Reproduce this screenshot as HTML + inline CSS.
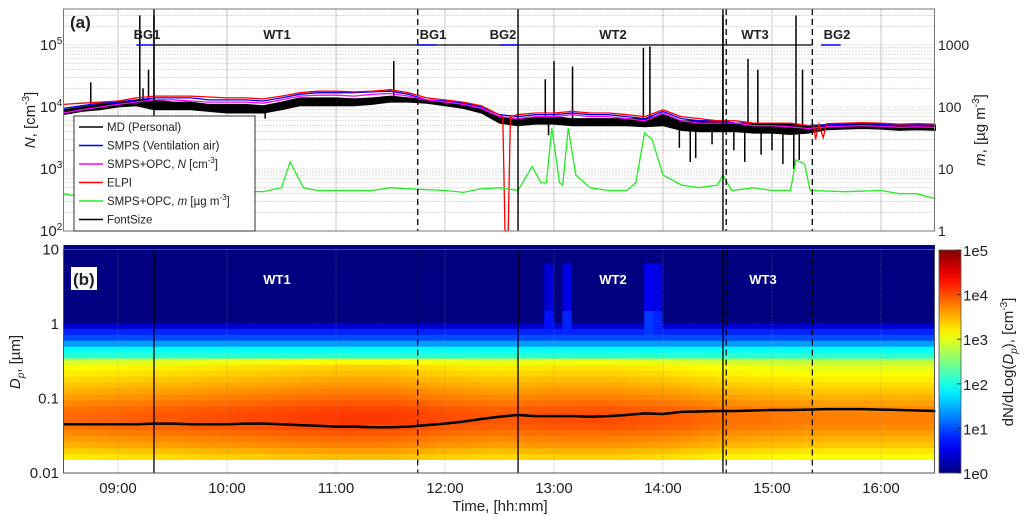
<!DOCTYPE html>
<html><head><meta charset="utf-8"><style>
body{margin:0;background:#fff;}
svg{display:block;font-family:"Liberation Sans",Arial,sans-serif;}
</style></head><body>
<svg id="c" width="1024" height="515" viewBox="0 0 1024 515" xmlns="http://www.w3.org/2000/svg"></svg>
<script>
// ---------- DATA ----------
const timeH = [];for(let i=0;i<49;i++)timeH.push(8.5+i/6);
const elpiN = [11,11.5,12,12.5,14,15,15,15,14.5,14,14,13.5,15,17,18,18,17.5,18,19,17,14,13,12,10.5,8,7.5,8,8,8.5,8,8,7.5,7,9,7,6.5,6,6,5.5,5.5,5.5,5,5.3,5.5,5.6,5.5,5.3,5.4,5.3];
const smpsN = [9.5,10.5,11.5,12,13,14,14,14,13,13,13,12.5,14,16,17,17,17,17.5,18,16,13,12.5,11.5,10,7.5,7,7.5,7.5,8,7.5,7.5,7,6.5,8.5,6.5,6,6,5.5,5.5,5.5,5.5,5,5.2,5.3,5.4,5.3,5.1,5.2,5.1];
const smpsOpcN = [8,9,10,11,12,13,13,12.5,12,12,12,11.5,13,15,15.5,15.5,15,16,16.5,15,13,12,11,9.5,7,6.5,7,7,7.5,7,7,6.5,6,8,6,5.5,5.5,5.5,5,5,4.8,4.5,4.8,4.9,5,4.9,4.7,4.8,4.7];
const mdHigh = [9,10,11,12,13,13,12,12,11,11,11,10.5,12,14,14,14,13.5,14,15,14,13,12,11,9.5,7,6.5,7,7,6.5,6.5,6.5,6.5,6.5,7.5,6,6,6,5.5,5.5,5.5,5.3,5,5.2,5.4,5.5,5.4,5.1,5.2,5.1];
const mdLow = [7.5,8.5,9,10,10.5,9,9,9,8.5,8,8,8,9,10.5,10.5,10.5,10.5,11,12,12,11.5,10.5,9.5,8,5.5,5,5.3,5.3,5,5,5,5,4.8,5,4.2,4,4,4,3.8,3.8,3.6,3.8,4.3,4.4,4.5,4.4,4.2,4.3,4.2];
const elpiDipT = [12.53,12.55,12.58,12.6,15.38,15.4,15.43,15.47,15.5];
const elpiDipN = [7000,100,100,7000,5200,3000,5300,3200,5400];
const spikeT = [8.75,9.2,9.23,9.28,9.33,11.53,12.92,13.0,13.17,13.82,13.88,14.55,14.78,14.87,15.22,15.28];
const spikeN = [25000,300000,20000,40000,300000,55000,28000,55000,45000,90000,95000,300000,60000,40000,300000,40000];
const dipT = [10.35,12.95,14.15,14.25,14.3,14.45,14.65,14.75,14.9,15.0,15.1,15.2,15.25];
const dipN = [6500,3500,2200,1300,1500,2500,2000,1300,1700,2000,1200,1000,1400];
const greenT = [8.5,8.67,8.83,9,9.33,9.67,10,10.33,10.5,10.58,10.7,10.83,11,11.33,11.5,11.67,12,12.17,12.33,12.5,12.67,12.8,12.88,12.93,12.98,13.05,13.08,13.13,13.2,13.33,13.5,13.67,13.75,13.83,13.9,14,14.17,14.33,14.5,14.55,14.63,14.83,15,15.17,15.22,15.3,15.35,15.67,16,16.17,16.33,16.5];
const greenM = [4,3.5,4,4.5,4.5,4.5,4.5,4.3,5,13,5,4.5,4.5,4.5,5,4.8,4.5,4.2,4.8,5,4.5,11,6,6,46,6,5.5,46,8,5,4.5,4.5,6,38,30,8,5.5,5,5.5,8,4.5,5,4.5,4.5,14,12,4.5,4.3,4.5,4,4,3.3];
// heatmap
const sizeLog = [];for(let j=0;j<36;j++)sizeLog.push(-1.82+j*0.08);
const sizeProfile = [3.3,3.45,3.6,3.7,3.8,3.9,3.95,3.95,3.9,3.8,3.7,3.6,3.5,3.4,3.3,3.2,3.0,2.1,1.9,1.4,1.0,0.8,0.4,0,0,0,0,0,0,0,0,0,0,0,0,0];
const shiftT = [8.5,9,9.5,10,10.5,11,11.5,12,12.5,13,13.5,14,14.5,15,15.5,16,16.5];
const shiftV = [-0.1,-0.05,0,0.05,0.1,0.15,0.15,0.05,0,0.05,0.05,0,-0.1,-0.15,-0.2,-0.2,-0.2];
const burstT = [12.97,13.15,13.9,13.93];
const burstA = [0.7,0.8,0.9,0.8];
const modeDp = [0.045,0.045,0.045,0.045,0.045,0.046,0.046,0.045,0.045,0.045,0.046,0.046,0.045,0.044,0.043,0.042,0.042,0.041,0.041,0.042,0.044,0.046,0.049,0.053,0.057,0.06,0.058,0.058,0.058,0.057,0.058,0.06,0.063,0.062,0.066,0.067,0.068,0.068,0.069,0.07,0.07,0.071,0.072,0.072,0.072,0.071,0.07,0.069,0.068];
const xTicks = ["09:00","10:00","11:00","12:00","13:00","14:00","15:00","16:00"];
const cbTicks = ["1e0","1e1","1e2","1e3","1e4","1e5"];

// ---------- SCALES ----------
const X0=63.5,X1=934.5,T0=8.5;
const xS=h=>X0+(h-T0)*109;
const yN=n=>Math.min(231,Math.max(9,107-(Math.log10(n)-4)*62));
const yM=m=>231-Math.log10(m)*62;
const yD=d=>324-Math.log10(d)*74.5;
const NS="http://www.w3.org/2000/svg";
const svg=document.getElementById('c');
function el(tag,attrs,parent){const e=document.createElementNS(NS,tag);for(const k in attrs)e.setAttribute(k,attrs[k]);(parent||svg).appendChild(e);return e;}
function txt(s,x,y,size,anchor,parent,extra){const t=el('text',Object.assign({x:x,y:y,'font-size':size,'text-anchor':anchor||'start',fill:'#222'},extra||{}),parent);t.innerHTML=s;return t;}
function jet(v){v=Math.max(0,Math.min(1,v));const r=Math.min(4*v-1.5,-4*v+4.5),g=Math.min(4*v-0.5,-4*v+3.5),b=Math.min(4*v+0.5,-4*v+2.5);const c=x=>Math.round(255*Math.max(0,Math.min(1,x)));return `rgb(${c(r)},${c(g)},${c(b)})`;}
function interp(ts,vs,t){if(t<=ts[0])return vs[0];for(let i=1;i<ts.length;i++)if(t<=ts[i]){const f=(t-ts[i-1])/(ts[i]-ts[i-1]);return vs[i-1]+f*(vs[i]-vs[i-1]);}return vs[vs.length-1];}

// ---------- PANEL A ----------
const gA=el('g',{});
el('rect',{x:X0,y:9,width:X1-X0,height:222,fill:'#fff'},gA);
for(let d=2;d<=5;d++)for(let k=1;k<=9;k++){const y=107-((d-4)+Math.log10(k))*62;if(y<9||y>231)continue;
  const l=el('line',{x1:X0,x2:X1,y1:y,y2:y,stroke:'#aaa','stroke-width':0.8,'stroke-dasharray':'1,2'},gA);}
xTicks.forEach((s,i)=>{const x=xS(9+i);const l=el('line',{x1:x,x2:x,y1:9,y2:231,stroke:'#bbb','stroke-width':0.8},gA);});
function path(ts,vs,ys,color,w,name){let d='';ts.forEach((t,i)=>{d+=(i?'L':'M')+xS(t).toFixed(1)+','+ys(vs[i]).toFixed(1);});const p=el('path',{d:d,fill:'none',stroke:color,'stroke-width':w},gA);return p;}
{let d='';timeH.forEach((t,i)=>{d+=(i?'L':'M')+xS(t).toFixed(1)+','+yN(mdHigh[i]*1000).toFixed(1);});for(let i=timeH.length-1;i>=0;i--)d+='L'+xS(timeH[i]).toFixed(1)+','+yN(mdLow[i]*1000).toFixed(1);
 const p=el('path',{d:d+'Z',fill:'#000',stroke:'#000','stroke-width':1},gA);}
spikeT.forEach((t,i)=>{const b=interp(timeH,mdHigh,t)*1000;const l=el('line',{x1:xS(t),x2:xS(t),y1:yN(b),y2:yN(spikeN[i]),stroke:'#000','stroke-width':1.5},gA);});
dipT.forEach((t,i)=>{const b=interp(timeH,mdLow,t)*1000;const l=el('line',{x1:xS(t),x2:xS(t),y1:yN(b),y2:yN(dipN[i]),stroke:'#000','stroke-width':1.5},gA);});
path(timeH,smpsN.map(v=>v*1000),yN,'#0000ff',1.3,'smps-series');
path(timeH,smpsOpcN.map(v=>v*1000),yN,'#ff00ff',1.3,'smps-opc-n-series');
{const pts=timeH.map((t,i)=>[t,elpiN[i]*1000]).filter(p=>!elpiDipT.some(d=>Math.abs(d-p[0])<0.04));
 elpiDipT.forEach((t,i)=>pts.push([t,elpiDipN[i]]));pts.sort((a,b)=>a[0]-b[0]);
 path(pts.map(p=>p[0]),pts.map(p=>p[1]),yN,'#ff0000',1.3,'elpi-series');}
path(greenT,greenM,yM,'#22ee22',1.3,'smps-opc-m-series');
[9.33,12.67,14.55].forEach(t=>{const l=el('line',{x1:xS(t),x2:xS(t),y1:9,y2:231,stroke:'#000','stroke-width':1.4},gA);});
[11.75,14.58,15.37].forEach(t=>{const l=el('line',{x1:xS(t),x2:xS(t),y1:9,y2:231,stroke:'#000','stroke-width':1.3,'stroke-dasharray':'6,4'},gA);});
el('line',{x1:xS(9.33),x2:xS(15.37),y1:45,y2:45,stroke:'#000','stroke-width':1.2},gA);
[[9.17,9.33],[11.75,11.92],[12.5,12.67],[15.45,15.63]].forEach(s=>{const l=el('line',{x1:xS(s[0]),x2:xS(s[1]),y1:45,y2:45,stroke:'#0000ff','stroke-width':1.5},gA);});
[['BG1',147],['WT1',277],['BG1',433],['BG2',503],['WT2',613],['WT3',755],['BG2',837]].forEach(p=>{const t=txt(p[0],p[1],39,13,'middle',gA,{'font-weight':'bold'});});
{const t=txt('(a)',70,28,17,'start',gA,{'font-weight':'bold'});}
el('rect',{x:X0,y:9,width:X1-X0,height:222,fill:'none',stroke:'#777','stroke-width':1},gA);
[[2,231],[3,169],[4,107],[5,45]].forEach(p=>{const t=txt('10<tspan dy="-6" font-size="10">'+p[0]+'</tspan>',40,p[1]+5,15,'start',gA);});
[['1',231],['10',169],['100',107],['1000',45]].forEach(p=>{const t=txt(p[0],938,p[1]+5,14,'start',gA);});
{const t=txt('<tspan font-style="italic">N</tspan>, [cm<tspan dy="-6" font-size="10">-3</tspan><tspan dy="6">]</tspan>',0,0,15,'middle',gA,{transform:'translate(35,120) rotate(-90)'});}
{const t=txt('<tspan font-style="italic">m</tspan>, [µg m<tspan dy="-6" font-size="10">-3</tspan><tspan dy="6">]</tspan>',0,0,15,'middle',gA,{transform:'translate(985,130) rotate(-90)'});}
{const g=el('g',{},gA);
 el('rect',{x:74,y:116,width:181,height:115,fill:'#fff',stroke:'#333','stroke-width':1},g);
 [['MD (Personal)','#000'],['SMPS (Ventilation air)','#0000ff'],['SMPS+OPC, <tspan font-style="italic">N</tspan> [cm<tspan dy="-5" font-size="8">-3</tspan><tspan dy="5">]</tspan>','#ff00ff'],['ELPI','#ff0000'],['SMPS+OPC, <tspan font-style="italic">m</tspan> [µg m<tspan dy="-5" font-size="8">-3</tspan><tspan dy="5">]</tspan>','#22ee22'],['FontSize','#000']].forEach((e,i)=>{const y=127+i*18.5;
  const ge=el('g',{},g);
  el('line',{x1:79,x2:103,y1:y,y2:y,stroke:e[1],'stroke-width':1.5},ge);txt(e[0],107,y+4,11.5,'start',ge);});}

// ---------- PANEL B ----------
const gB=el('g',{});
el('rect',{x:X0,y:249.5,width:X1-X0,height:223.5,fill:'#fff'},gB);
const nCol=96,cw=(X1-X0)/nCol;
const gH=el('g',{},gB);
el('rect',{x:X0,y:249.5,width:X1-X0,height:yD(Math.pow(10,sizeLog[35]+0.08))-249.5+0.5,fill:jet(0)},gH);
for(let i=0;i<nCol;i++){const t=T0+(i+0.5)*(8/nCol);const sh=interp(shiftT,shiftV,t);
 let burst=0;burstT.forEach((b,k)=>{if(Math.abs(b-t)<0.05)burst=Math.max(burst,burstA[k]);});
 for(let j=0;j<sizeLog.length;j++){const lg=sizeLog[j];let v=sizeProfile[j]+(sizeProfile[j]>2.5?sh:0);
  if(lg>-0.3&&lg<0.8&&burst>0)v=Math.max(v,burst*(lg<0.1?1:0.6));
  const y1=yD(Math.pow(10,lg+0.08)),y2=yD(Math.pow(10,lg));
  const r=el('rect',{x:(X0+i*cw).toFixed(2),y:y1.toFixed(2),width:(cw+0.4).toFixed(2),height:(y2-y1+0.4).toFixed(2),fill:jet(v/5)},gH);
  }}
xTicks.forEach((s,i)=>{const x=xS(9+i);el('line',{x1:x,x2:x,y1:249.5,y2:473,stroke:'#888','stroke-width':0.6,'stroke-dasharray':'1,2'},gB);
 const tk=txt(s,x,493,15,'middle',gB);});
{let d='';timeH.forEach((t,i)=>{d+=(i?'L':'M')+xS(t).toFixed(1)+','+yD(modeDp[i]).toFixed(1);});const p=el('path',{d:d,fill:'none',stroke:'#000','stroke-width':2.5},gB);}
[9.33,12.67,14.55].forEach(t=>el('line',{x1:xS(t),x2:xS(t),y1:249.5,y2:473,stroke:'#000','stroke-width':1.3},gB));
[11.75,14.58,15.37].forEach(t=>el('line',{x1:xS(t),x2:xS(t),y1:249.5,y2:473,stroke:'#000','stroke-width':1.2,'stroke-dasharray':'6,4'},gB));
[['WT1',277],['WT2',613],['WT3',763]].forEach(p=>{const t=txt(p[0],p[1],284,13,'middle',gB,{'font-weight':'bold',fill:'#fff'});});
el('rect',{x:71,y:267,width:26,height:23,fill:'#fff'},gB);
{const t=txt('(b)',73,285,17,'start',gB,{'font-weight':'bold'});}
el('rect',{x:X0,y:249.5,width:X1-X0,height:223.5,fill:'none',stroke:'#555','stroke-width':1},gB);
[['10',10],['1',1],['0.1',0.1],['0.01',0.01]].forEach(p=>{const t=txt(p[0],59,yD(p[1])+5,15,'end',gB);});
{const t=txt('<tspan font-style="italic">D</tspan><tspan font-style="italic" dy="4" font-size="10">p</tspan><tspan dy="-4">, [µm]</tspan>',0,0,15,'middle',gB,{transform:'translate(20,362) rotate(-90)'});}
{const t=txt('Time, [hh:mm]',500,511,15,'middle',gB);}
{const g=el('g',{},gB);
 const defs=el('defs',{},g);const lg=el('linearGradient',{id:'jetg',x1:0,y1:1,x2:0,y2:0},defs);
 for(let k=0;k<=20;k++)el('stop',{offset:k/20,'stop-color':jet(k/20)},lg);
 el('rect',{x:939,y:250,width:22,height:223,fill:'url(#jetg)',stroke:'#555','stroke-width':0.8},g);
 cbTicks.forEach((s,i)=>{const y=473-i*223/5;el('line',{x1:957,x2:961,y1:y,y2:y,stroke:'#333'},g);const t=txt(s,963,y+6,15,'start',g);});
 const t=txt('dN/dLog(<tspan font-style="italic">D</tspan><tspan font-style="italic" dy="4" font-size="10">p</tspan><tspan dy="-4">), [cm</tspan><tspan dy="-6" font-size="10">-3</tspan><tspan dy="6">]</tspan>',0,0,15,'middle',g,{transform:'translate(1013,362) rotate(-90)'});}
</script>
</body></html>
